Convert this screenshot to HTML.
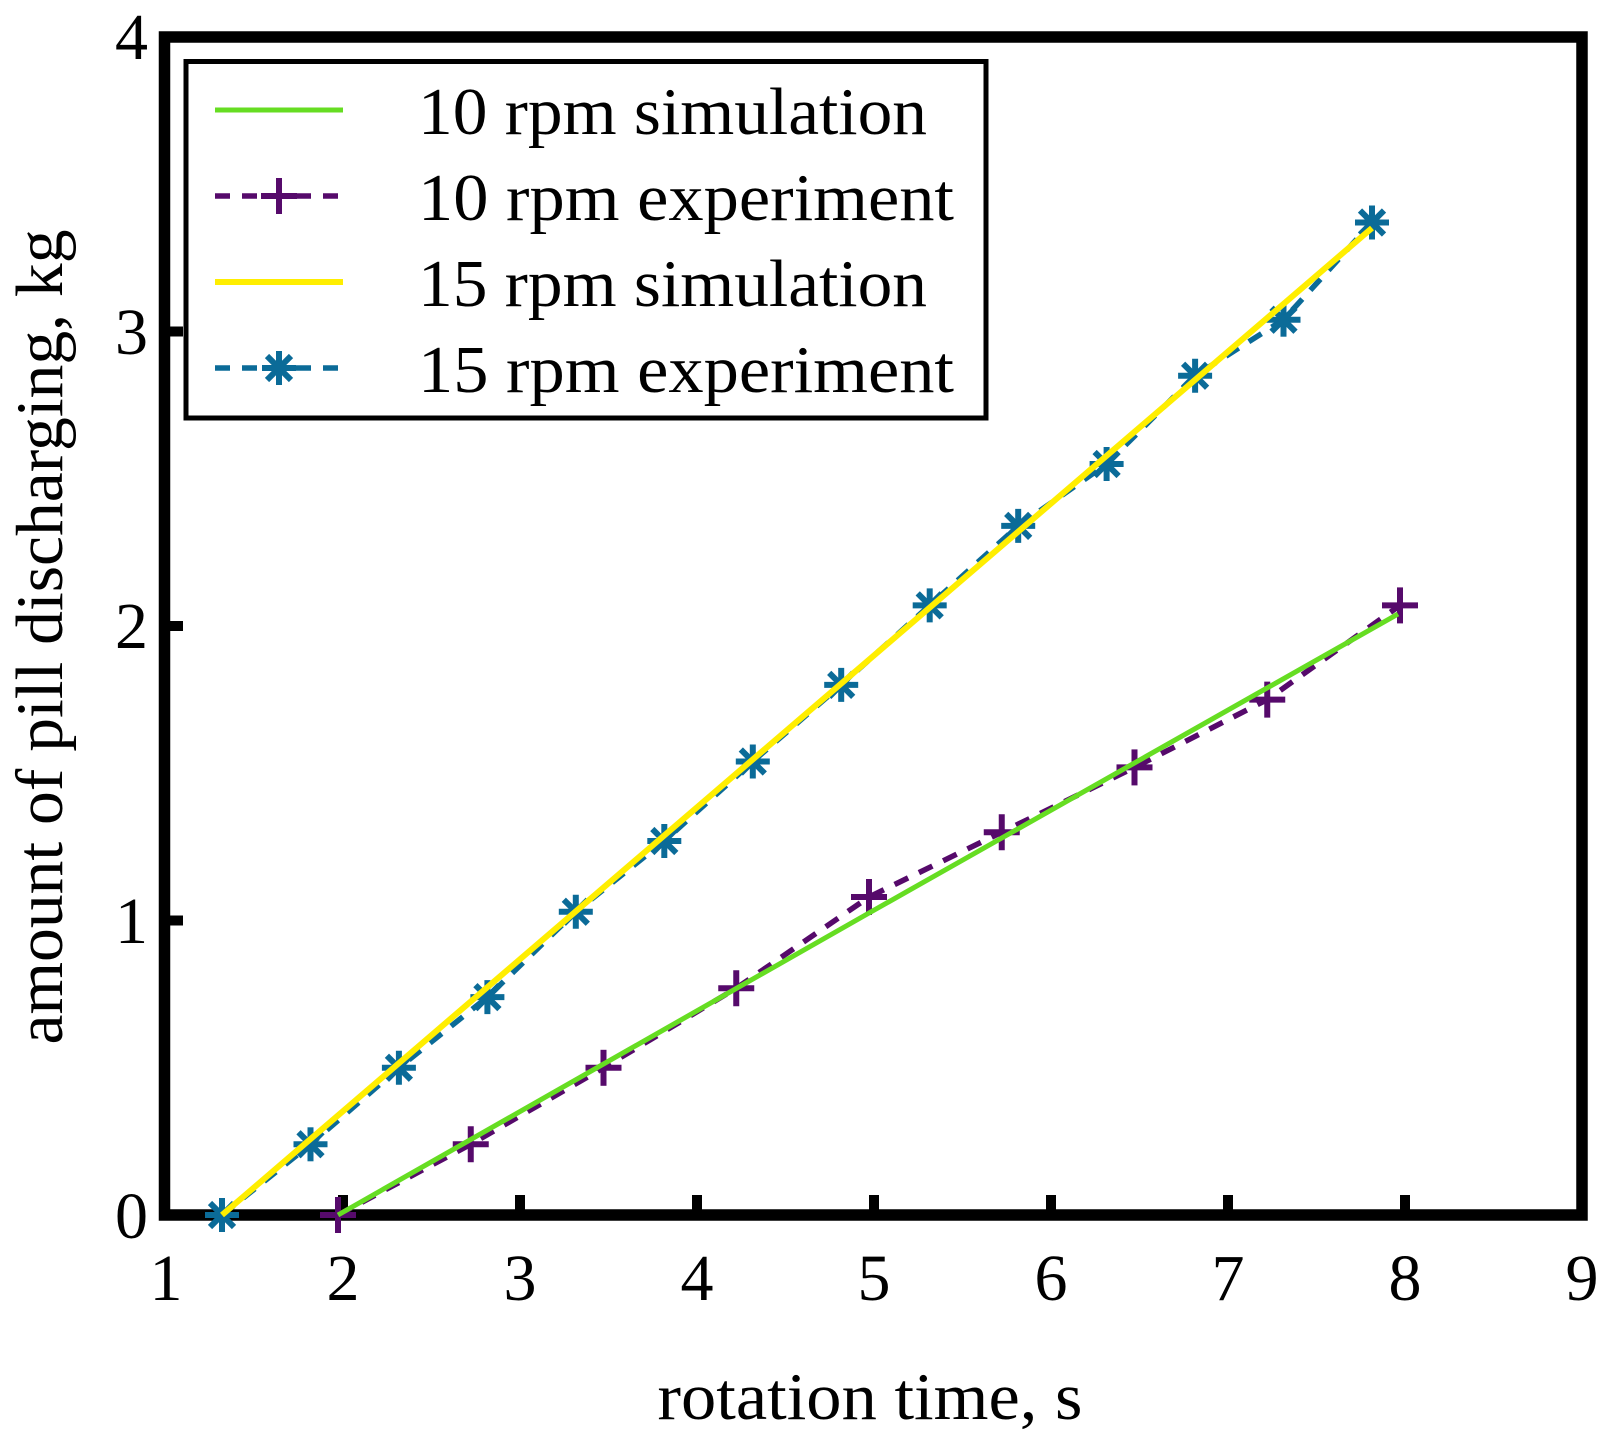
<!DOCTYPE html>
<html>
<head>
<meta charset="utf-8">
<style>
html,body{margin:0;padding:0;background:#fff;}
svg{display:block;}
text{font-family:"Liberation Serif","Times New Roman",serif;fill:#000;}
</style>
</head>
<body>
<svg width="1615" height="1451" viewBox="0 0 1615 1451" xmlns="http://www.w3.org/2000/svg">
<defs>
  <g id="ast">
    <line x1="-17" y1="0" x2="17" y2="0"/>
    <line x1="0" y1="-17" x2="0" y2="17"/>
    <line x1="-12" y1="-12" x2="12" y2="12"/>
    <line x1="-12" y1="12" x2="12" y2="-12"/>
  </g>
  <g id="plus">
    <line x1="-18" y1="0" x2="18" y2="0"/>
    <line x1="0" y1="-18" x2="0" y2="18"/>
  </g>
</defs>
<rect width="1615" height="1451" fill="#fff"/>

<!-- frame -->
<rect x="164.5" y="37" width="1417.5" height="1178" fill="none" stroke="#000" stroke-width="11.5"/>
<!-- ticks -->
<g fill="#000">
  <rect x="338" y="1195" width="10" height="20"/>
  <rect x="515" y="1195" width="10" height="20"/>
  <rect x="692" y="1195" width="10" height="20"/>
  <rect x="869" y="1195" width="10" height="20"/>
  <rect x="1046" y="1195" width="10" height="20"/>
  <rect x="1223" y="1195" width="10" height="20"/>
  <rect x="1400" y="1195" width="10" height="20"/>
  <rect x="165" y="915.5" width="18" height="10"/>
  <rect x="165" y="621" width="18" height="10"/>
  <rect x="165" y="326.5" width="18" height="10"/>
</g>

<!-- y tick labels -->
<g font-size="66" text-anchor="end">
  <text x="148" y="1238">0</text>
  <text x="148" y="943">1</text>
  <text x="148" y="648">2</text>
  <text x="148" y="354">3</text>
  <text x="148" y="59">4</text>
</g>
<!-- x tick labels -->
<g font-size="66" text-anchor="middle">
  <text x="166" y="1300">1</text>
  <text x="343" y="1300">2</text>
  <text x="520" y="1300">3</text>
  <text x="697" y="1300">4</text>
  <text x="874" y="1300">5</text>
  <text x="1051" y="1300">6</text>
  <text x="1228" y="1300">7</text>
  <text x="1405" y="1300">8</text>
  <text x="1582" y="1300">9</text>
</g>

<!-- axis titles -->
<text x="870" y="1419" font-size="67" text-anchor="middle" textLength="425" lengthAdjust="spacingAndGlyphs">rotation time, s</text>
<text transform="translate(62,637) rotate(-90)" font-size="67" text-anchor="middle" textLength="815" lengthAdjust="spacingAndGlyphs">amount of pill discharging, kg</text>

<!-- 10 rpm experiment -->
<polyline fill="none" stroke="#560a6b" stroke-width="5.5" stroke-dasharray="15 12"
  points="338,1215 470.75,1144.3 603.5,1067.8 736.25,988.2 869,897 1001.75,832.2 1134.5,767.4 1267.25,699.6 1400,605.4"/>
<g stroke="#560a6b" stroke-width="6">
  <use href="#plus" x="338" y="1215"/>
  <use href="#plus" x="470.75" y="1144.3"/>
  <use href="#plus" x="603.5" y="1067.8"/>
  <use href="#plus" x="736.25" y="988.2"/>
  <use href="#plus" x="869" y="897"/>
  <use href="#plus" x="1001.75" y="832.2"/>
  <use href="#plus" x="1134.5" y="767.4"/>
  <use href="#plus" x="1267.25" y="699.6"/>
  <use href="#plus" x="1400" y="605.4"/>
</g>

<!-- 15 rpm experiment -->
<polyline fill="none" stroke="#0b6b98" stroke-width="5.5" stroke-dasharray="15 12"
  points="222,1215 310.5,1144.3 398.9,1067.8 487.4,997.1 575.8,911.7 664.3,841 752.8,761.5 841.2,684.9 929.7,605.4 1018.2,525.9 1106.6,464 1195.1,375.7 1283.5,319.7 1372,222.5"/>
<g stroke="#0b6b98" stroke-width="6">
  <use href="#ast" x="222" y="1215"/>
  <use href="#ast" x="310.5" y="1144.3"/>
  <use href="#ast" x="398.9" y="1067.8"/>
  <use href="#ast" x="487.4" y="997.1"/>
  <use href="#ast" x="575.8" y="911.7"/>
  <use href="#ast" x="664.3" y="841"/>
  <use href="#ast" x="752.8" y="761.5"/>
  <use href="#ast" x="841.2" y="684.9"/>
  <use href="#ast" x="929.7" y="605.4"/>
  <use href="#ast" x="1018.2" y="525.9"/>
  <use href="#ast" x="1106.6" y="464"/>
  <use href="#ast" x="1195.1" y="375.7"/>
  <use href="#ast" x="1283.5" y="319.7"/>
  <use href="#ast" x="1372" y="222.5"/>
</g>

<!-- simulations -->
<polyline fill="none" points="338,1215 869,913 1001.75,838 1398,614" stroke="#66dd22" stroke-width="5"/>
<line x1="222" y1="1215" x2="1372" y2="228" stroke="#ffee00" stroke-width="6"/>

<!-- legend -->
<rect x="186" y="61.5" width="800" height="356.5" fill="#fff" stroke="#000" stroke-width="5"/>
<line x1="215" y1="110" x2="343" y2="110" stroke="#66dd22" stroke-width="5"/>
<line x1="215" y1="196" x2="343" y2="196" stroke="#560a6b" stroke-width="5.5" stroke-dasharray="15 12"/>
<use href="#plus" x="279" y="196" stroke="#560a6b" stroke-width="6"/>
<line x1="215" y1="282" x2="343" y2="282" stroke="#ffee00" stroke-width="6"/>
<line x1="215" y1="368" x2="343" y2="368" stroke="#0b6b98" stroke-width="5.5" stroke-dasharray="15 12"/>
<use href="#ast" x="279" y="368" stroke="#0b6b98" stroke-width="6"/>
<g font-size="67">
  <text x="418" y="134" textLength="509" lengthAdjust="spacingAndGlyphs">10 rpm simulation</text>
  <text x="418" y="220" textLength="536" lengthAdjust="spacingAndGlyphs">10 rpm experiment</text>
  <text x="418" y="306" textLength="509" lengthAdjust="spacingAndGlyphs">15 rpm simulation</text>
  <text x="418" y="392" textLength="536" lengthAdjust="spacingAndGlyphs">15 rpm experiment</text>
</g>
</svg>
</body>
</html>
